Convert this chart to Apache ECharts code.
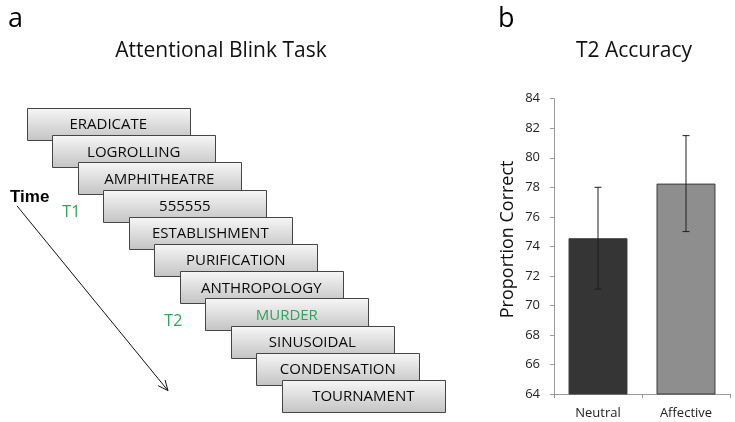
<!DOCTYPE html>
<html>
<head>
<meta charset="utf-8">
<script src="https://cdn.jsdelivr.net/npm/echarts@6/dist/echarts.min.js"></script>
<style>html,body{margin:0;padding:0;background:#fff}#c{width:735px;height:422px}</style>
</head>
<body>
<div id="c"></div>
<script>
// ---- Panel a: RSVP stream ----
const words = ['ERADICATE','LOGROLLING','AMPHITHEATRE','555555','ESTABLISHMENT','PURIFICATION','ANTHROPOLOGY','MURDER','SINUSOIDAL','CONDENSATION','TOURNAMENT'];
const highlightWords = ['MURDER'];
const targetLabels = ['T1','T2'];
const targetPositions = [3, 7];
const timeArrow = [[-0.38, 3.6, 5.54, 10.39]];

// ---- Panel b: bar chart ----
const categories = ['Neutral','Affective'];
const meanValues = [74.55, 78.25];
const errLow = [71.1, 75.0];
const errHigh = [78.0, 81.5];
const yTicks = {min: 64, max: 84, interval: 2};

const FONT = '"Open Sans", sans-serif';
const GREEN = '#2fa35c';
const chart = echarts.init(document.getElementById('c'), null, {renderer: 'canvas'});

const BOX_W = 6.4, BOX_H = 1.18;

chart.setOption({
  backgroundColor: '#fff',
  animation: false,
  title: [
    {text: 'a', left: 3, top: 1, textStyle: {fontFamily: FONT, fontSize: 27, fontWeight: 'normal', color: '#000'}},
    {text: 'b', left: 493, top: 1, textStyle: {fontFamily: FONT, fontSize: 27, fontWeight: 'normal', color: '#000'}},
    {text: 'Attentional Blink Task', left: 216, textAlign: 'center', top: 36, textStyle: {fontFamily: FONT, fontSize: 21, fontWeight: 'normal', color: '#111'}},
    {text: 'T2 Accuracy', left: 629, textAlign: 'center', top: 36, textStyle: {fontFamily: FONT, fontSize: 21, fontWeight: 'normal', color: '#111'}},
    {text: 'Time', left: 5, top: 184, textStyle: {fontFamily: '"Liberation Sans", Arial, sans-serif', fontSize: 17, fontWeight: 'bold', color: '#000'}}
  ],
  grid: [
    {left: 554, right: 5, top: 98.7, bottom: 28},
    {left: 26.7, top: 108, width: 408, height: 299.2}
  ],
  xAxis: [
    {
      type: 'category', gridIndex: 0, data: categories,
      axisLine: {lineStyle: {color: '#9a9a9a'}},
      axisTick: {show: true, length: 4, lineStyle: {color: '#9a9a9a'}},
      axisLabel: {color: '#222', fontFamily: FONT, fontSize: 13, margin: 13}
    },
    {type: 'value', gridIndex: 1, min: 0, max: 16, show: false}
  ],
  yAxis: [
    {
      type: 'value', gridIndex: 0, min: yTicks.min, max: yTicks.max, interval: yTicks.interval,
      name: 'Proportion Correct', nameLocation: 'middle', nameGap: 37,
      nameTextStyle: {fontFamily: FONT, fontSize: 18, color: '#111', padding: [0, 0, 0, 14]},
      axisLine: {show: true, lineStyle: {color: '#9a9a9a'}},
      axisTick: {show: true, length: 4, lineStyle: {color: '#9a9a9a'}},
      axisLabel: {color: '#222', fontFamily: FONT, fontSize: 13, margin: 14},
      splitLine: {show: false}
    },
    {type: 'value', gridIndex: 1, min: 0, max: 11, inverse: true, show: false}
  ],
  series: [
    {
      type: 'bar', xAxisIndex: 0, yAxisIndex: 0, barCategoryGap: '33%',
      data: meanValues.map((v, i) => ({value: v, itemStyle: {color: i === 0 ? '#353535' : '#8e8e8e', borderColor: '#3a3a3a', borderWidth: 1}}))
    },
    {
      type: 'custom', xAxisIndex: 0, yAxisIndex: 0, z: 5,
      data: categories.map((c, i) => [i, errLow[i], errHigh[i]]),
      renderItem: function (params, api) {
        const lo = api.coord([api.value(0), api.value(1)]);
        const hi = api.coord([api.value(0), api.value(2)]);
        const cap = 3.5;
        const st = {stroke: '#1e1e1e', lineWidth: 1};
        return {type: 'group', children: [
          {type: 'line', shape: {x1: lo[0], y1: lo[1], x2: hi[0], y2: hi[1]}, style: st},
          {type: 'line', shape: {x1: lo[0] - cap, y1: lo[1], x2: lo[0] + cap, y2: lo[1]}, style: st},
          {type: 'line', shape: {x1: hi[0] - cap, y1: hi[1], x2: hi[0] + cap, y2: hi[1]}, style: st}
        ]};
      }
    },
    {
      type: 'custom', xAxisIndex: 1, yAxisIndex: 1, clip: false,
      data: words.map((w, i) => [i, i, w]),
      renderItem: function (params, api) {
        const i = params.dataIndex;
        const p = api.coord([api.value(0), api.value(1)]);
        const s = api.size([BOX_W, BOX_H]);
        const w = words[i];
        return {type: 'group', children: [
          {type: 'rect', shape: {x: Math.round(p[0]) + 0.5, y: Math.round(p[1]) + 0.5, width: Math.round(s[0]), height: Math.round(s[1])},
            style: {
              fill: new echarts.graphic.LinearGradient(0, 0, 0, 1, [{offset: 0, color: '#f7f7f7'}, {offset: 1, color: '#c3c3c3'}]),
              stroke: '#454545', lineWidth: 1
            }},
          {type: 'text', style: {text: w, x: p[0] + s[0] / 2, y: p[1] + s[1] / 2 + 1, align: 'center', verticalAlign: 'middle',
            fill: highlightWords.indexOf(w) >= 0 ? GREEN : '#0a0a0a', font: '15px ' + FONT}}
        ]};
      }
    },
    {
      type: 'custom', xAxisIndex: 1, yAxisIndex: 1, clip: false,
      data: targetLabels.map((t, k) => [targetPositions[k] - 1.25, targetPositions[k] + 0.85, t]),
      renderItem: function (params, api) {
        const p = api.coord([api.value(0), api.value(1)]);
        return {type: 'text', style: {text: targetLabels[params.dataIndex], x: p[0], y: p[1], align: 'center', verticalAlign: 'middle', fill: GREEN, font: '16px ' + FONT}};
      }
    },
    {
      type: 'custom', xAxisIndex: 1, yAxisIndex: 1, clip: false,
      data: timeArrow,
      renderItem: function (params, api) {
        const a = api.coord([api.value(0), api.value(1)]);
        const b = api.coord([api.value(2), api.value(3)]);
        const ang = Math.atan2(b[1] - a[1], b[0] - a[0]);
        const L = 11, spread = 0.42;
        const h1 = [b[0] - L * Math.cos(ang - spread), b[1] - L * Math.sin(ang - spread)];
        const h2 = [b[0] - L * Math.cos(ang + spread), b[1] - L * Math.sin(ang + spread)];
        const st = {stroke: '#111', lineWidth: 1, fill: null};
        return {type: 'group', children: [
          {type: 'line', shape: {x1: a[0], y1: a[1], x2: b[0], y2: b[1]}, style: st},
          {type: 'polyline', shape: {points: [h1, b, h2]}, style: st}
        ]};
      }
    }
  ]
});
</script>
</body>
</html>
